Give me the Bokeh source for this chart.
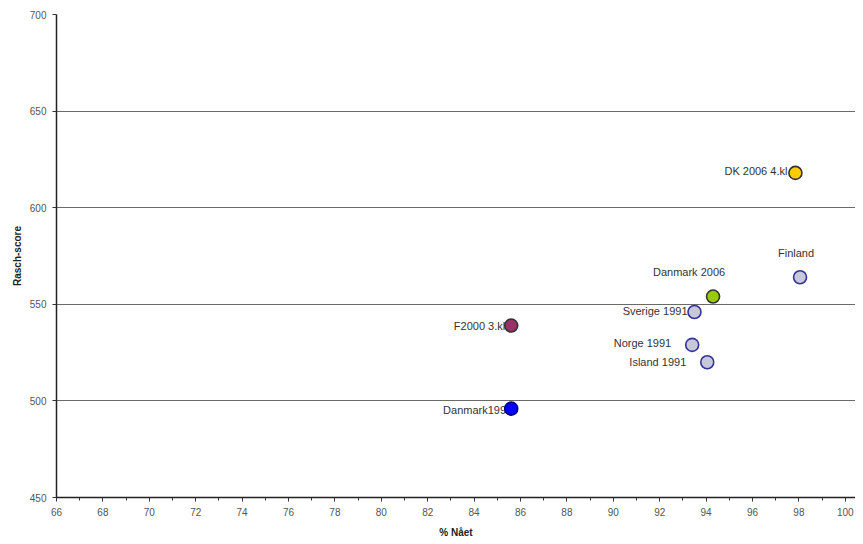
from bokeh.plotting import figure
from bokeh.models import ColumnDataSource, Range1d, FixedTicker
from bokeh.core.properties import value
from bokeh.embed import file_html
from bokeh.resources import INLINE

# ---- data ----
names = ["DK 2006 4.kl", "Finland", "Danmark 2006", "Sverige 1991",
         "Norge 1991", "Island 1991", "F2000 3.kl", "Danmark1991"]
pct_naaet = [97.85, 98.05, 94.3, 93.5, 93.4, 94.05, 85.6, 85.6]
rasch = [618, 564, 554, 546, 529, 520, 539, 496]

x_ticks = list(range(66, 101, 2))
x_minor = list(range(67, 101, 2))
y_ticks = [450, 500, 550, 600, 650, 700]

# ---- styles (layout only) ----
fills = ["#FFCC00", "#C8C8DC", "#99CC00", "#C8C8DC", "#C8C8DC", "#C8C8DC", "#993366", "#0000FF"]
edges = ["#333333", "#333399", "#333333", "#333399", "#333399", "#333399", "#333333", "#000080"]
lab_dx = [-8, -4, -24, -7, -21, -21, -6, 1]
lab_dy = [-2, -24, -25, -1, -2, 0, 0, 1]
lab_align = ["right", "center", "center", "right", "right", "right", "right", "right"]

src = ColumnDataSource(dict(x=pct_naaet, y=rasch, name=names, fill=fills, edge=edges,
                            dx=lab_dx, dy=lab_dy, align=lab_align))

p = figure(width=855, height=540, output_backend="svg", toolbar_location=None,
           x_range=Range1d(66, 100.44), y_range=Range1d(450, 700),
           min_border_left=56, min_border_right=0, min_border_top=14, min_border_bottom=43)
p.outline_line_color = None
p.background_fill_color = "white"

# grid
p.xgrid.grid_line_color = None
p.ygrid.grid_line_color = "#6a6a6a"
p.ygrid.grid_line_width = 1.2
p.ygrid.ticker = FixedTicker(ticks=y_ticks)

# axes
p.xaxis.ticker = FixedTicker(ticks=x_ticks, minor_ticks=x_minor)
p.yaxis.ticker = FixedTicker(ticks=y_ticks)
for ax in (p.xaxis[0], p.yaxis[0]):
    ax.axis_line_color = "#222222"
    ax.axis_line_width = 1.5
    ax.major_tick_line_color = "#333333"
    ax.minor_tick_line_color = "#333333"
    ax.major_tick_in = 0
    ax.major_tick_out = 4
    ax.minor_tick_in = 0
    ax.minor_tick_out = 3
    ax.major_label_text_font = "Liberation Sans"
    ax.major_label_text_font_size = "10px"
    ax.major_label_text_color = "#555555"
    ax.axis_label_text_font = "Liberation Sans"
    ax.axis_label_text_font_size = "10px"
    ax.axis_label_text_font_style = "bold"
    ax.axis_label_text_color = "#222222"
p.yaxis.minor_tick_out = 0
p.xaxis.axis_label = "% Nået"
p.yaxis.axis_label = "Rasch-score"
p.xaxis.major_label_standoff = 6
p.xaxis.axis_label_standoff = 8
p.yaxis.major_label_standoff = 6
p.yaxis.axis_label_standoff = 4

# labels then markers on top
p.text(x="x", y="y", text="name", source=src, x_offset="dx", y_offset="dy",
       text_align="align", text_baseline="middle",
       text_font=value("Liberation Sans"), text_font_size="11px", text_color="#333333")
p.scatter(x="x", y="y", source=src, size=13, fill_color="fill", line_color="edge", line_width=1.6)

open("out.html", "w").write(file_html(p, INLINE))
